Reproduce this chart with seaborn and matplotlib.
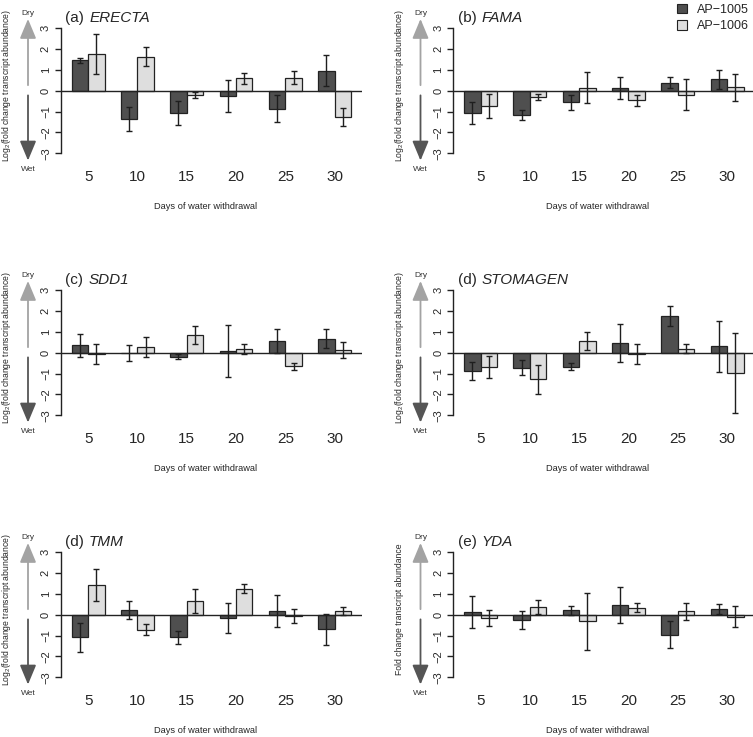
import matplotlib
matplotlib.use("Agg")
import matplotlib.pyplot as plt
from matplotlib.patches import Patch
import seaborn as sns
import pandas as pd

# ---------------- data ----------------
days = [5, 10, 15, 20, 25, 30]
lines = ["AP\u22121005", "AP\u22121006"]

erecta_1005 = [1.46, -1.37, -1.06, -0.23, -0.87, 0.97]
erecta_1005_err = [0.11, 0.58, 0.56, 0.77, 0.65, 0.74]
erecta_1006 = [1.77, 1.64, -0.22, 0.60, 0.63, -1.26]
erecta_1006_err = [0.95, 0.45, 0.14, 0.27, 0.32, 0.42]

fama_1005 = [-1.08, -1.16, -0.55, 0.12, 0.39, 0.55]
fama_1005_err = [0.52, 0.24, 0.35, 0.52, 0.26, 0.45]
fama_1006 = [-0.73, -0.30, 0.15, -0.46, -0.18, 0.17]
fama_1006_err = [0.58, 0.16, 0.73, 0.26, 0.75, 0.64]

sdd1_1005 = [0.36, -0.01, -0.18, 0.10, 0.57, 0.68]
sdd1_1005_err = [0.54, 0.38, 0.14, 1.24, 0.58, 0.47]
sdd1_1006 = [-0.06, 0.28, 0.84, 0.17, -0.65, 0.15]
sdd1_1006_err = [0.47, 0.50, 0.44, 0.23, 0.18, 0.38]

stomagen_1005 = [-0.89, -0.71, -0.66, 0.47, 1.75, 0.31]
stomagen_1005_err = [0.43, 0.37, 0.18, 0.91, 0.48, 1.23]
stomagen_1006 = [-0.70, -1.27, 0.58, -0.04, 0.20, -0.97]
stomagen_1006_err = [0.53, 0.69, 0.43, 0.48, 0.20, 1.91]

tmm_1005 = [-1.08, 0.23, -1.08, -0.15, 0.17, -0.70]
tmm_1005_err = [0.69, 0.45, 0.30, 0.74, 0.76, 0.73]
tmm_1006 = [1.43, -0.71, 0.66, 1.26, -0.05, 0.17]
tmm_1006_err = [0.76, 0.26, 0.56, 0.22, 0.35, 0.20]

yda_1005 = [0.14, -0.25, 0.22, 0.46, -0.95, 0.26]
yda_1005_err = [0.78, 0.41, 0.21, 0.86, 0.65, 0.24]
yda_1006 = [-0.15, 0.36, -0.31, 0.34, 0.17, -0.09]
yda_1006_err = [0.37, 0.34, 1.36, 0.21, 0.42, 0.49]

titles = ["(a)", "(b)", "(c)", "(d)", "(d)", "(e)"]
gene_names = ["ERECTA", "FAMA", "SDD1", "STOMAGEN", "TMM", "YDA"]
ylabels = ["Log$_2$(fold change transcript abundance)"] * 5 + ["Fold change transcript abundance"]

panels = [
    (erecta_1005, erecta_1005_err, erecta_1006, erecta_1006_err),
    (fama_1005, fama_1005_err, fama_1006, fama_1006_err),
    (sdd1_1005, sdd1_1005_err, sdd1_1006, sdd1_1006_err),
    (stomagen_1005, stomagen_1005_err, stomagen_1006, stomagen_1006_err),
    (tmm_1005, tmm_1005_err, tmm_1006, tmm_1006_err),
    (yda_1005, yda_1005_err, yda_1006, yda_1006_err),
]

# ---------------- style ----------------
sns.set_style("ticks")
plt.rcParams["font.family"] = ["Liberation Sans", "DejaVu Sans"]
plt.rcParams["mathtext.fontset"] = "custom"
plt.rcParams["mathtext.rm"] = "Liberation Sans"
plt.rcParams["mathtext.it"] = "Liberation Sans:italic"
plt.rcParams["axes.linewidth"] = 1.0

DARK = "#4f4f4f"
LIGHT = "#dedede"
EDGE = "#222222"

W, H = 753, 737
fig = plt.figure(figsize=(W / 100, H / 100), dpi=100)

UNIT = 20.83  # px per y unit
AX_W = 301.7
AX_H = 6.48 * UNIT
positions = [(60.5, 28.3), (453, 28.3), (60.5, 290.3), (453, 290.3), (60.5, 552.3), (453, 552.3)]

for i, (vals, (L, T3)) in enumerate(zip(panels, positions)):
    top = T3 - 0.24 * UNIT
    ax = fig.add_axes([L / W, 1 - (top + AX_H) / H, AX_W / W, AX_H / H])
    m1, e1, m2, e2 = vals
    df = pd.DataFrame({
        "day": days * 2,
        "line": [lines[0]] * 6 + [lines[1]] * 6,
        "value": m1 + m2,
    })
    sns.barplot(data=df, x="day", y="value", hue="line", order=days,
                hue_order=lines, palette=[DARK, LIGHT], width=2 / 3,
                errorbar=None, edgecolor=EDGE, linewidth=0.9, saturation=1,
                legend=False, ax=ax)
    for cont, means, errs in zip(ax.containers, [m1, m2], [e1, e2]):
        xs = [b.get_x() + b.get_width() / 2 for b in cont]
        ax.errorbar(xs, means, yerr=errs, fmt="none", ecolor="#1e1e1e",
                    elinewidth=1.0, capsize=2.2, capthick=1.0, zorder=5)
    ax.axhline(0, color="#222222", lw=1.0, zorder=4)
    ax.set_xlim(-0.56, 5.56)
    ax.set_ylim(-3.24, 3.24)
    ax.set_xlabel("")
    ax.set_ylabel("")
    for s in ["top", "right", "bottom"]:
        ax.spines[s].set_visible(False)
    ax.spines["left"].set_bounds(-3, 3)
    ax.spines["left"].set_color("#222222")
    ax.set_yticks([-3, -2, -1, 0, 1, 2, 3])
    ax.set_yticklabels(["\u22123", "\u22122", "\u22121", "0", "1", "2", "3"])
    ax.tick_params(axis="y", length=4.3, width=1.0, pad=2.6, labelsize=8, color="#222222")
    for lab in ax.get_yticklabels():
        lab.set_rotation(90)
        lab.set_va("center")
    ax.set_xticks(range(len(days)))
    ax.set_xticklabels([str(d) for d in days])
    ax.tick_params(axis="x", length=0, pad=8.3, labelsize=11)
    ax.patch.set_alpha(0)

    # title: "(a)" upright followed by italic gene name
    t1 = ax.annotate(titles[i], xy=(5, 3.28), xycoords=("axes pixels", "data"),
                     ha="left", va="baseline", fontsize=11, annotation_clip=False)
    ax.annotate(gene_names[i], xy=(1, 3.28), xycoords=(t1, "data"),
                xytext=(3.4, 0), textcoords="offset points",
                ha="left", va="baseline", fontsize=11, fontstyle="italic",
                annotation_clip=False)
    # x label
    ax.annotate("Days of water withdrawal", xy=(145, -5.55),
                xycoords=("axes pixels", "data"), ha="center", va="center",
                fontsize=6.7, annotation_clip=False)
    # y label
    ax.annotate(ylabels[i], xy=(-54.0, 0.25), xycoords=("axes pixels", "data"),
                ha="center", va="center", rotation=90, fontsize=6.2,
                annotation_clip=False)
    # Dry / Wet arrows
    ax.annotate("", xy=(-32.5, 3.45), xytext=(-32.5, 0.27),
                xycoords=("axes pixels", "data"), textcoords=("axes pixels", "data"),
                arrowprops=dict(arrowstyle="-|>,head_length=1.2,head_width=0.5",
                                mutation_scale=10, color="#a3a3a3", lw=1.3,
                                shrinkA=0, shrinkB=0),
                annotation_clip=False)
    ax.annotate("", xy=(-32.5, -3.35), xytext=(-32.5, -0.22),
                xycoords=("axes pixels", "data"), textcoords=("axes pixels", "data"),
                arrowprops=dict(arrowstyle="-|>,head_length=1.2,head_width=0.5",
                                mutation_scale=10, color="#555555", lw=1.3,
                                shrinkA=0, shrinkB=0),
                annotation_clip=False)
    ax.annotate("Dry", xy=(-32.5, 3.72), xycoords=("axes pixels", "data"),
                ha="center", va="center", fontsize=6, color="#333333",
                annotation_clip=False)
    ax.annotate("Wet", xy=(-32.5, -3.78), xycoords=("axes pixels", "data"),
                ha="center", va="center", fontsize=6, color="#333333",
                annotation_clip=False)

handles = [Patch(facecolor=DARK, edgecolor=EDGE, lw=0.8),
           Patch(facecolor=LIGHT, edgecolor=EDGE, lw=0.8)]
fig.legend(handles=handles, labels=lines, loc="upper right",
           bbox_to_anchor=(749 / W, 1 - 3.5 / H), frameon=False, fontsize=9,
           handlelength=0.8, handleheight=0.8, handletextpad=0.8,
           labelspacing=0.35, borderaxespad=0, borderpad=0)

fig.savefig("out.png", dpi=100)
